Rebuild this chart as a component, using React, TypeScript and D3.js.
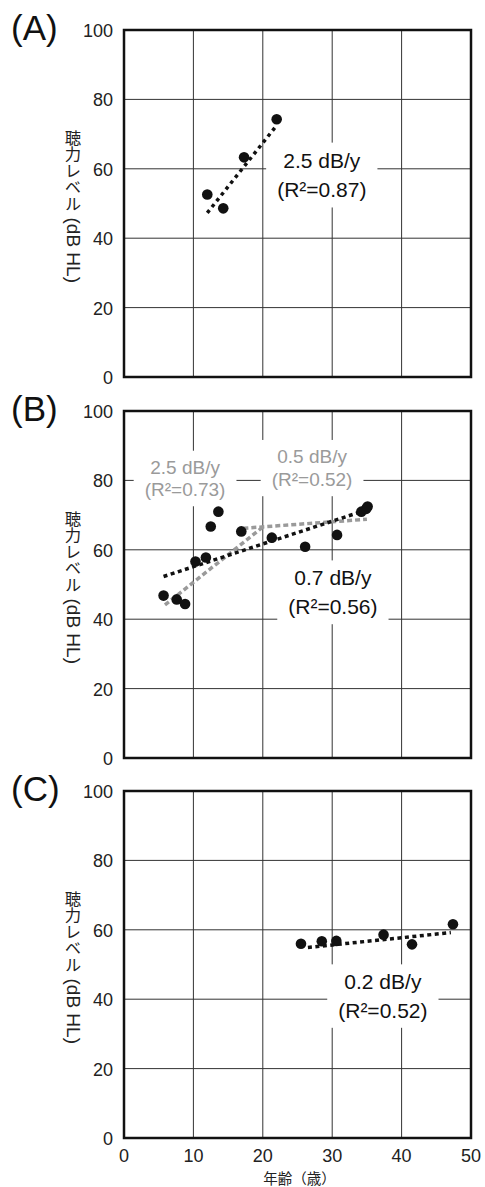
import { useEffect, useRef } from 'react';
import * as d3 from 'd3';

// values: age (years) and hearing level (dB HL)
const panelLabels = ['(A)', '(B)', '(C)'];
const yTicks = [0, 20, 40, 60, 80, 100];
const xTicks = [0, 10, 20, 30, 40, 50];

const agesA = [12.0, 14.3, 17.3, 22.0];
const levelsA = [52.6, 48.6, 63.3, 74.3];

const agesB = [5.7, 7.6, 8.8, 10.3, 11.8, 12.5, 13.6, 16.9, 21.3, 26.1, 30.7, 34.2, 34.9, 35.1];
const levelsB = [46.8, 45.7, 44.4, 56.6, 57.8, 66.7, 71.0, 65.3, 63.5, 60.9, 64.3, 71.0, 71.8, 72.5];

const agesC = [25.5, 28.5, 30.6, 37.4, 41.5, 47.4];
const levelsC = [56.0, 56.7, 56.8, 58.6, 55.8, 61.6];

// fitted lines [start, end] as [age, level]
const fitA = [[12.0, 47.3], [22.0, 72.5]];
const fitB = [[5.7, 52.3], [34.5, 71.2]];
const fitBYoung = [[5.9, 44.1], [20.1, 66.7]];
const fitBOld = [[17.2, 66.2], [35.0, 68.8]];
const fitC = [[26.5, 54.9], [47.1, 59.2]];

const slopeA = ['2.5 dB/y', '(R²=0.87)'];
const slopeB = ['0.7 dB/y', '(R²=0.56)'];
const slopeBYoung = ['2.5 dB/y', '(R²=0.73)'];
const slopeBOld = ['0.5 dB/y', '(R²=0.52)'];
const slopeC = ['0.2 dB/y', '(R²=0.52)'];

// y title: upright kana/kanji, then the unit turned sideways
const yTitleKana = '聴力レベル';
const yTitleUnit = '(dB HL)';
const xTitle = '年齢（歳）';

const LATIN = '"Liberation Sans", Arial, sans-serif';
const CJK = '"Noto Sans CJK JP", "Liberation Sans", sans-serif';
const GREY = '#9a9a9a';

const renderChart = (node) => {
    const svg = d3.select(node);
    svg.selectAll('*').remove();

    const left = 124, size = 347;
    const tops = [30, 411, 791];

    const x = d3.scaleLinear().domain([0, 50]).range([left, left + size]);

    const panels = [
        { ages: agesA, levels: levelsA, fits: [{ pts: fitA, color: '#111', dash: '3.5,4' }],
          notes: [{ lines: slopeA, at: [28.5, 62.5, 53.9], color: '#111', fs: 21 }] },
        { ages: agesB, levels: levelsB,
          fits: [
              { pts: fitBYoung, color: GREY, dash: '5,3' },
              { pts: fitBOld, color: GREY, dash: '5,3' },
              { pts: fitB, color: '#111', dash: '4,3.5' }],
          notes: [
              { lines: slopeBYoung, at: [8.8, 83.8, 77.3], color: GREY, fs: 19 },
              { lines: slopeBOld, at: [27.1, 86.9, 80.2], color: GREY, fs: 19 },
              { lines: slopeB, at: [30.1, 51.9, 43.6], color: '#111', fs: 21 }] },
        { ages: agesC, levels: levelsC, fits: [{ pts: fitC, color: '#111', dash: '4,3.5' }],
          notes: [{ lines: slopeC, at: [37.3, 45.0, 36.8], color: '#111', fs: 21 }] },
    ];

    panels.forEach((p, i) => {
        const top = tops[i];
        const y = d3.scaleLinear().domain([0, 100]).range([top + size, top]);
        const g = svg.append('g');

        // grid
        g.append('g').selectAll('line.h').data(yTicks.slice(1, -1)).enter().append('line')
            .attr('x1', left).attr('x2', left + size)
            .attr('y1', d => y(d)).attr('y2', d => y(d))
            .attr('stroke', '#333').attr('stroke-width', 1);
        g.append('g').selectAll('line.v').data(xTicks.slice(1, -1)).enter().append('line')
            .attr('x1', d => x(d)).attr('x2', d => x(d))
            .attr('y1', top).attr('y2', top + size)
            .attr('stroke', '#333').attr('stroke-width', 1);

        // annotation boxes knock out the grid
        const noteG = g.append('g');
        p.notes.forEach(n => {
            const tg = noteG.append('g');
            const texts = n.lines.map((t, k) => tg.append('text')
                .attr('x', x(n.at[0]))
                .attr('y', y(n.at[1 + k]))
                .attr('text-anchor', 'middle')
                .attr('dominant-baseline', 'central')
                .style('font-family', LATIN)
                .style('font-size', n.fs + 'px')
                .attr('fill', n.color)
                .text(t));
            let x0 = Infinity, y0 = Infinity, x1 = -Infinity, y1 = -Infinity;
            texts.forEach(t => {
                const b = t.node().getBBox();
                x0 = Math.min(x0, b.x); y0 = Math.min(y0, b.y);
                x1 = Math.max(x1, b.x + b.width); y1 = Math.max(y1, b.y + b.height);
            });
            tg.insert('rect', 'text')
                .attr('x', x0 - 11).attr('y', y0 - 6)
                .attr('width', x1 - x0 + 22).attr('height', y1 - y0 + 12)
                .attr('fill', 'white');
        });

        // frame
        g.append('rect')
            .attr('x', left).attr('y', top).attr('width', size).attr('height', size)
            .attr('fill', 'none').attr('stroke', '#111').attr('stroke-width', 2.5);

        // fitted lines
        const line = d3.line().x(d => x(d[0])).y(d => y(d[1]));
        p.fits.forEach(f => {
            g.append('path')
                .attr('d', line(f.pts))
                .attr('fill', 'none')
                .attr('stroke', f.color)
                .attr('stroke-width', 3.5)
                .attr('stroke-dasharray', f.dash);
        });

        // points
        g.append('g').selectAll('circle').data(p.ages).enter().append('circle')
            .attr('cx', d => x(d))
            .attr('cy', (d, k) => y(p.levels[k]))
            .attr('r', 5.3)
            .attr('fill', '#111');

        // y tick labels
        g.append('g').selectAll('text').data(yTicks).enter().append('text')
            .attr('x', 113).attr('y', d => y(d) + 1)
            .attr('text-anchor', 'end')
            .attr('dominant-baseline', 'central')
            .style('font-family', LATIN).style('font-size', '18px')
            .attr('fill', '#222')
            .text(d => d);

        // y title: vertical kana, then the unit rotated
        const cjkSize = 16.4;
        const titleTop = top + size / 2 - 74;
        const tx = 73;
        g.append('text')
            .attr('x', tx).attr('y', titleTop)
            .style('writing-mode', 'vertical-rl')
            .style('text-orientation', 'upright')
            .style('font-family', CJK).style('font-size', cjkSize + 'px')
            .attr('fill', '#222')
            .text(yTitleKana);
        const unitTop = titleTop + cjkSize * yTitleKana.length + 6;
        g.append('text')
            .attr('transform', `translate(${tx},${unitTop}) rotate(90)`)
            .attr('x', 0).attr('y', 0)
            .attr('dominant-baseline', 'central')
            .style('font-family', LATIN).style('font-size', '19px')
            .attr('fill', '#222')
            .text(yTitleUnit);

        // panel label
        g.append('text')
            .attr('x', 11).attr('y', top + 10)
            .style('font-family', LATIN).style('font-size', '35px')
            .attr('fill', '#111')
            .text(panelLabels[i]);

        if (i === panels.length - 1) {
            g.append('g').selectAll('text').data(xTicks).enter().append('text')
                .attr('x', d => x(d)).attr('y', top + size + 18)
                .attr('text-anchor', 'middle')
                .attr('dominant-baseline', 'central')
                .style('font-family', LATIN).style('font-size', '18px')
                .attr('fill', '#222')
                .text(d => d);
            g.append('text')
                .attr('x', x(25) + 2).attr('y', top + size + 39)
                .attr('text-anchor', 'middle')
                .attr('dominant-baseline', 'central')
                .style('font-family', CJK).style('font-size', '14.5px')
                .attr('fill', '#222')
                .text(xTitle);
        }
    });
};

const App = () => {
    const ref = useRef(null);

    useEffect(() => {
        renderChart(ref.current);
    }, []);

    return (
        <svg ref={ref} width="485" height="1187"
            style={{ position: 'absolute', left: 0, top: 0, background: 'white' }} />
    );
};

export default App;
